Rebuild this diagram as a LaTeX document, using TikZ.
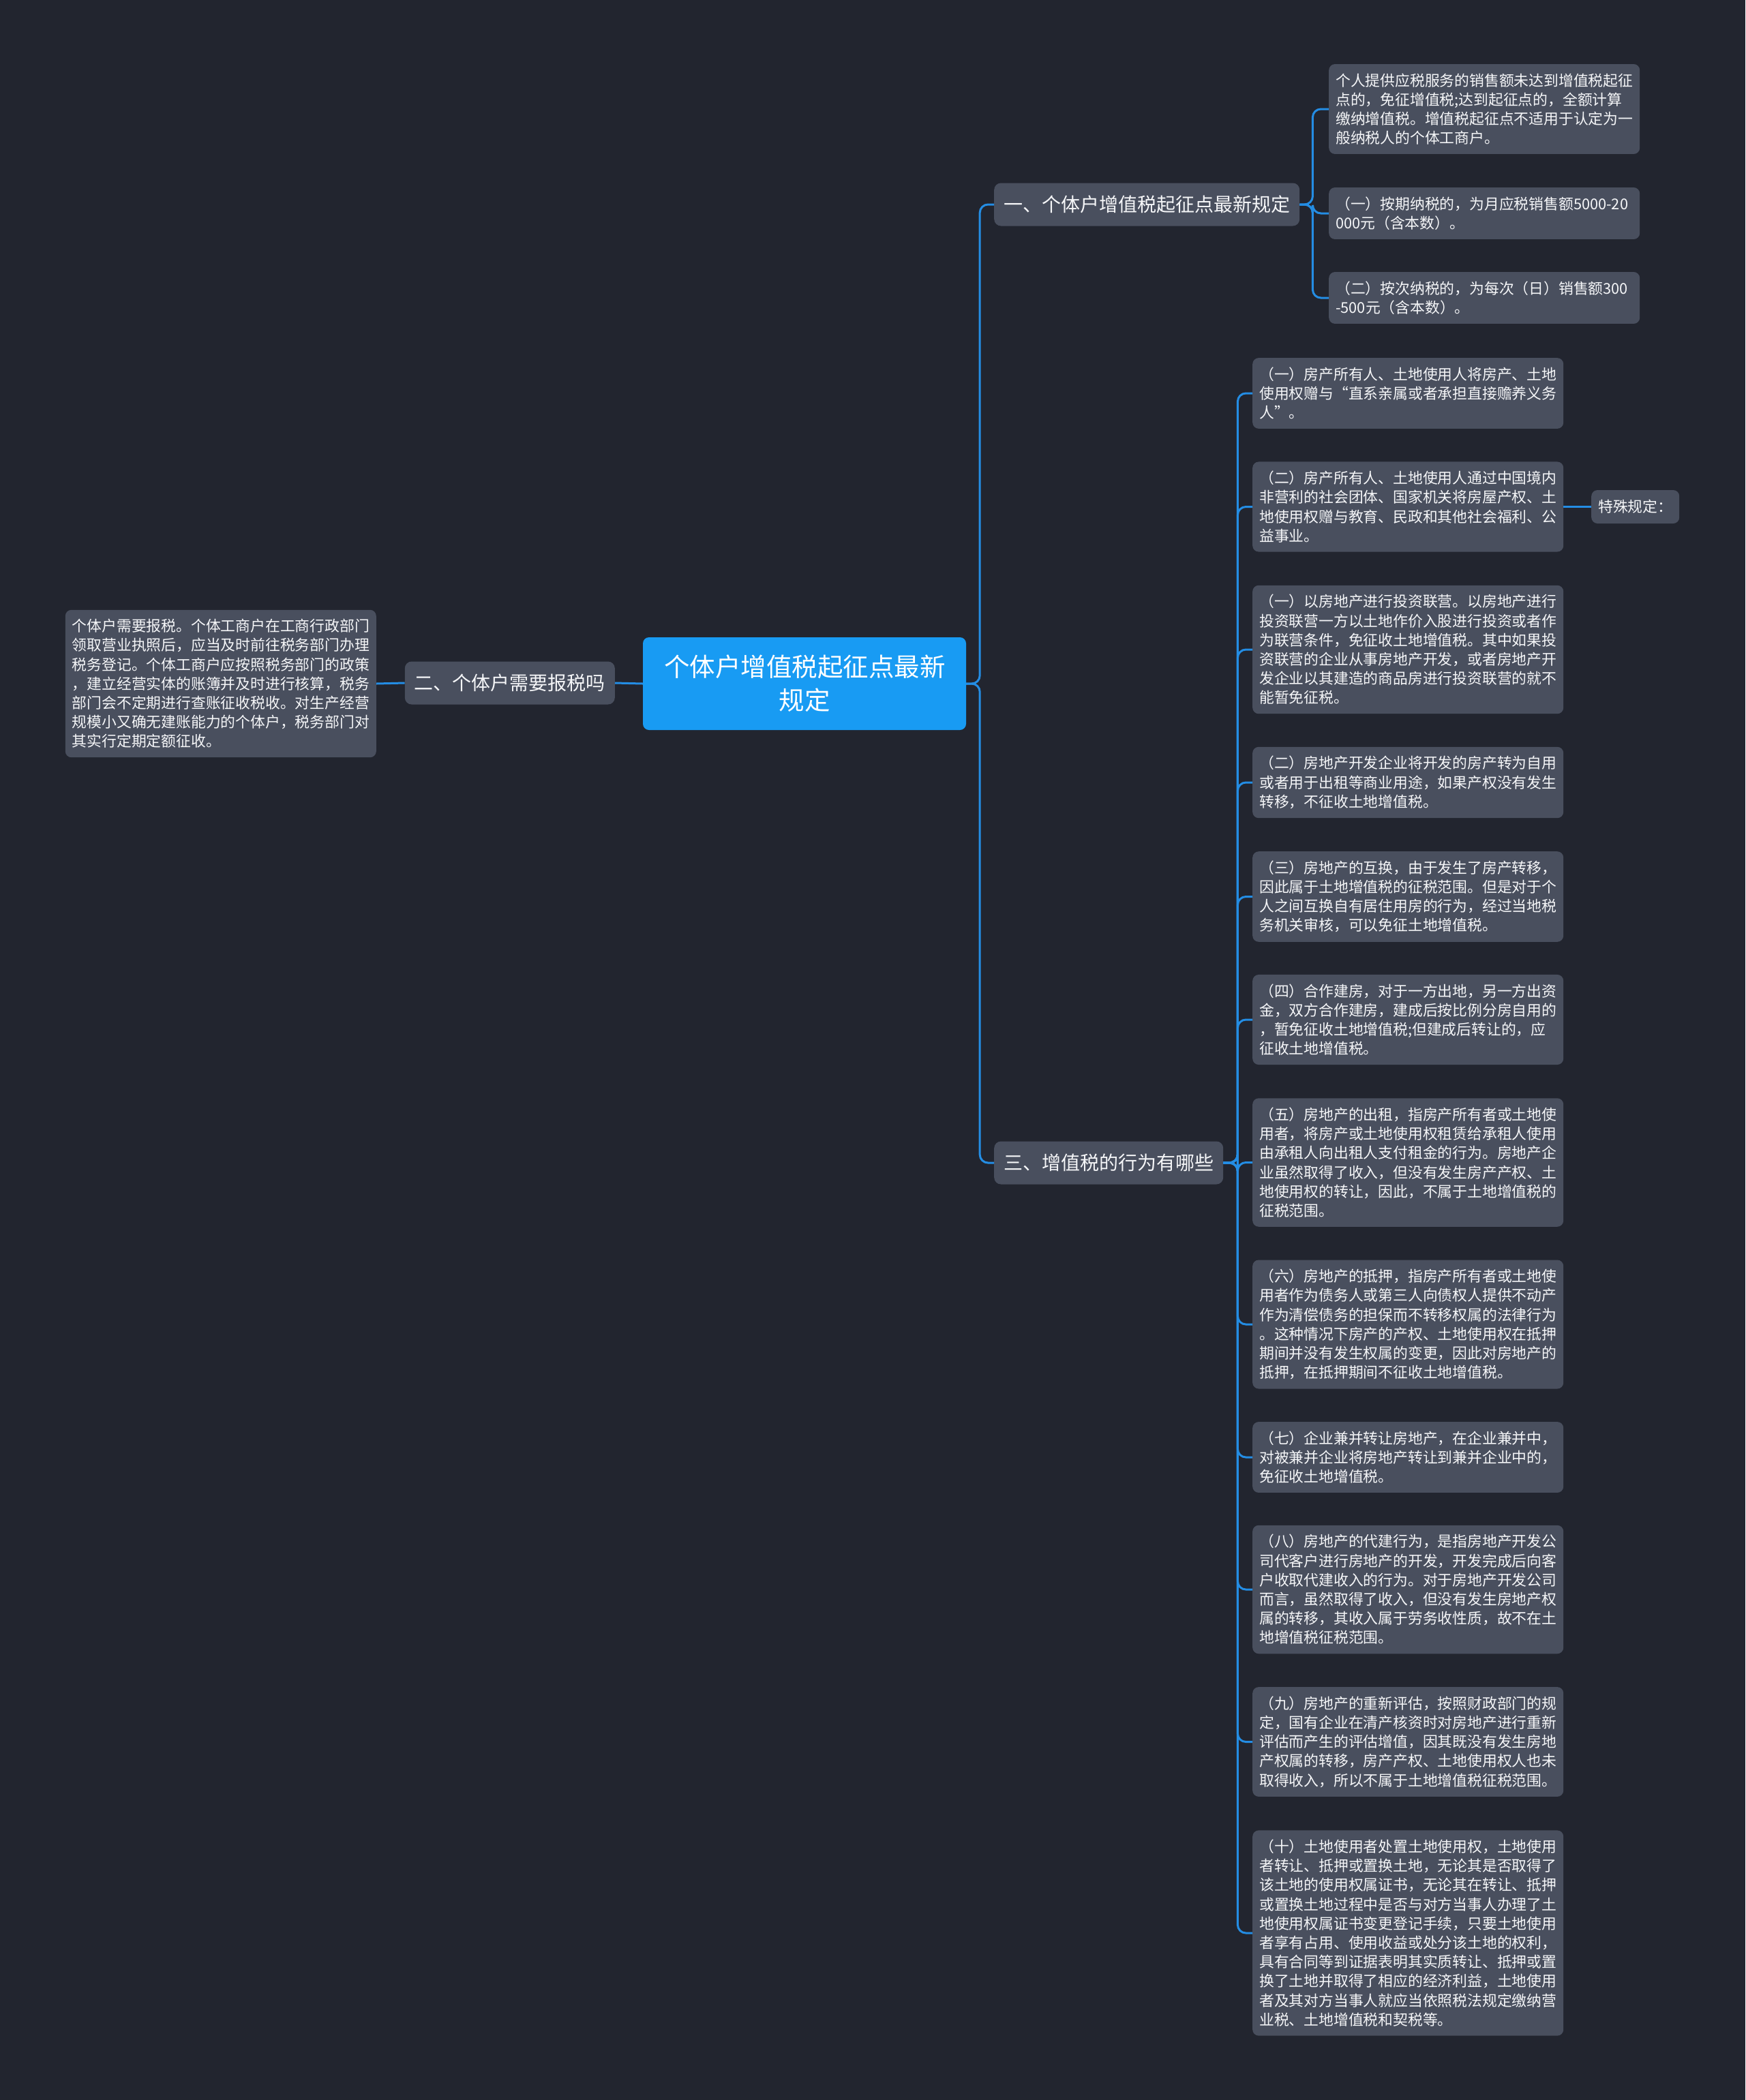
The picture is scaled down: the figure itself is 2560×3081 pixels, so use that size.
\documentclass[tikz,border=0pt]{standalone}
\usepackage{fontspec}
\setmainfont{Noto Sans CJK SC}
\definecolor{bgc}{RGB}{34,37,47}
\definecolor{boxc}{RGB}{73,79,94}
\definecolor{linec}{RGB}{36,141,228}
\definecolor{rootc}{RGB}{24,155,243}
\definecolor{txtc}{RGB}{245,246,248}
\begin{document}
\begin{tikzpicture}[x={(1pt,0)},y={(0,-1pt)},
  leaf/.style={draw=none,fill=boxc,rounded corners=9pt,text=txtc,
    font=\fontsize{21.8pt}{28.2pt}\selectfont,text width=436pt,align=left,
    inner xsep=10pt,inner ysep=13.5pt,anchor=west},
  small/.style={draw=none,fill=boxc,rounded corners=9pt,text=txtc,
    font=\fontsize{21.8pt}{28.2pt}\selectfont,inner xsep=10pt,minimum height=49pt,anchor=west},
  branch/.style={draw=none,fill=boxc,rounded corners=10pt,text=txtc,
    font=\fontsize{28pt}{34pt}\selectfont,inner xsep=14pt,minimum height=63pt,anchor=west},
  rootbox/.style={draw=none,fill=rootc,rounded corners=9pt,text=white,
    font=\fontsize{37.5pt}{49pt}\selectfont,text width=412pt,align=center,
    inner xsep=31pt,minimum height=136pt},
  conn/.style={draw=linec,line width=3pt,rounded corners=12pt}]
\useasboundingbox (0,0) rectangle (2560,3081);
\fill[bgc] (0,0) rectangle (2560,3081);

% root
\node[rootbox] (root) at (1180,1003) {个体户增值税起征点最新\\规定};

% branches
\node[branch] (b1) at (1458,300) {一、个体户增值税起征点最新规定};
\node[branch,anchor=east] (b2) at (902,1002) {二、个体户需要报税吗};
\node[branch] (b3) at (1458,1706) {三、增值税的行为有哪些};

% branch 2 leaf
\node[leaf,anchor=east] (l2) at (552,1003) {个体户需要报税。个体工商户在工商行政部门\\领取营业执照后，应当及时前往税务部门办理\\税务登记。个体工商户应按照税务部门的政策\\，建立经营实体的账簿并及时进行核算，税务\\部门会不定期进行查账征收税收。对生产经营\\规模小又确无建账能力的个体户，税务部门对\\其实行定期定额征收。};

% branch 1 leaves
\node[leaf] (p1) at (1949,160) {个人提供应税服务的销售额未达到增值税起征\\点的，免征增值税;达到起征点的，全额计算\\缴纳增值税。增值税起征点不适用于认定为一\\般纳税人的个体工商户。};
\node[leaf] (p2) at (1949,313) {（一）按期纳税的，为月应税销售额5000-20\\000元（含本数）。};
\node[leaf] (p3) at (1949,437) {（二）按次纳税的，为每次（日）销售额300\\-500元（含本数）。};

% branch 3 leaves
\node[leaf] (a1) at (1837,577) {（一）房产所有人、土地使用人将房产、土地\\使用权赠与“直系亲属或者承担直接赡养义务\\人”。};
\node[leaf] (a2) at (1837,743.5) {（二）房产所有人、土地使用人通过中国境内\\非营利的社会团体、国家机关将房屋产权、土\\地使用权赠与教育、民政和其他社会福利、公\\益事业。};
\node[small] (sp) at (2334,743.5) {特殊规定：};
\node[leaf] (a3) at (1837,953) {（一）以房地产进行投资联营。以房地产进行\\投资联营一方以土地作价入股进行投资或者作\\为联营条件，免征收土地增值税。其中如果投\\资联营的企业从事房地产开发，或者房地产开\\发企业以其建造的商品房进行投资联营的就不\\能暂免征税。};
\node[leaf] (a4) at (1837,1148) {（二）房地产开发企业将开发的房产转为自用\\或者用于出租等商业用途，如果产权没有发生\\转移，不征收土地增值税。};
\node[leaf] (a5) at (1837,1315.5) {（三）房地产的互换，由于发生了房产转移，\\因此属于土地增值税的征税范围。但是对于个\\人之间互换自有居住用房的行为，经过当地税\\务机关审核，可以免征土地增值税。};
\node[leaf] (a6) at (1837,1496) {（四）合作建房，对于一方出地，另一方出资\\金，双方合作建房，建成后按比例分房自用的\\，暂免征收土地增值税;但建成后转让的，应\\征收土地增值税。};
\node[leaf] (a7) at (1837,1705.5) {（五）房地产的出租，指房产所有者或土地使\\用者，将房产或土地使用权租赁给承租人使用\\由承租人向出租人支付租金的行为。房地产企\\业虽然取得了收入，但没有发生房产产权、土\\地使用权的转让，因此，不属于土地增值税的\\征税范围。};
\node[leaf] (a8) at (1837,1943) {（六）房地产的抵押，指房产所有者或土地使\\用者作为债务人或第三人向债权人提供不动产\\作为清偿债务的担保而不转移权属的法律行为\\。这种情况下房产的产权、土地使用权在抵押\\期间并没有发生权属的变更，因此对房地产的\\抵押，在抵押期间不征收土地增值税。};
\node[leaf] (a9) at (1837,2138) {（七）企业兼并转让房地产，在企业兼并中，\\对被兼并企业将房地产转让到兼并企业中的，\\免征收土地增值税。};
\node[leaf] (a10) at (1837,2332) {（八）房地产的代建行为，是指房地产开发公\\司代客户进行房地产的开发，开发完成后向客\\户收取代建收入的行为。对于房地产开发公司\\而言，虽然取得了收入，但没有发生房地产权\\属的转移，其收入属于劳务收性质，故不在土\\地增值税征税范围。};
\node[leaf] (a11) at (1837,2555.5) {（九）房地产的重新评估，按照财政部门的规\\定，国有企业在清产核资时对房地产进行重新\\评估而产生的评估增值，因其既没有发生房地\\产权属的转移，房产产权、土地使用权人也未\\取得收入，所以不属于土地增值税征税范围。};
\node[leaf] (a12) at (1837,2836) {（十）土地使用者处置土地使用权，土地使用\\者转让、抵押或置换土地，无论其是否取得了\\该土地的使用权属证书，无论其在转让、抵押\\或置换土地过程中是否与对方当事人办理了土\\地使用权属证书变更登记手续，只要土地使用\\者享有占用、使用收益或处分该土地的权利，\\具有合同等到证据表明其实质转让、抵押或置\\换了土地并取得了相应的经济利益，土地使用\\者及其对方当事人就应当依照税法规定缴纳营\\业税、土地增值税和契税等。};

% connectors
\draw[conn] (root.east) -- ++(20,0) |- (b1.west);
\draw[conn] (root.east) -- ++(20,0) |- (b3.west);
\draw[conn] (root.west) -- (b2.east);
\draw[conn] (b2.west) -- (l2.east);
\foreach \n in {p1,p2,p3}{
  \draw[conn] (b1.east) -- ++(19,0) |- (\n.west);
}
\foreach \n in {a1,a2,a3,a4,a5,a6,a7,a8,a9,a10,a11,a12}{
  \draw[conn] (b3.east) -- ++(21,0) |- (\n.west);
}
\draw[conn] (a2.east) -- (sp.west);
\end{tikzpicture}
\end{document}
